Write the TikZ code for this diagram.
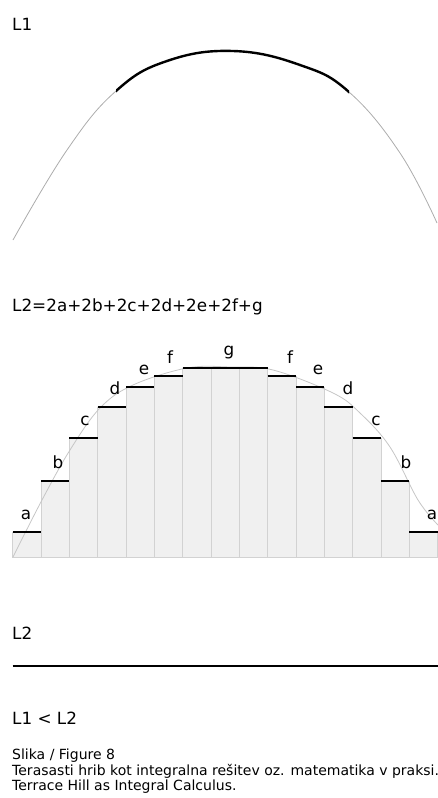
\documentclass[tikz,border=0pt]{standalone}
\usepackage{fontspec}
\setmainfont{DejaVu Sans}
\usetikzlibrary{positioning}

\begin{document}
\begin{tikzpicture}[
  x=1pt, y=-1pt,
  lbl/.style={font=\fontsize{16.8}{20}\selectfont, inner sep=0pt, anchor=base west},
  steplbl/.style={font=\fontsize{16.8}{20}\selectfont, inner sep=0pt, anchor=base},
  capline/.style={font=\fontsize{14}{16}\selectfont, inner sep=0pt, anchor=base west},
  hill/.style={gray!65, line width=0.8pt},
  ridge/.style={black, line width=2.4pt},
  column/.style={fill=gray!12, draw=gray!35, line width=0.6pt},
  tread/.style={black, line width=1.8pt}
]
\useasboundingbox (0,0) rectangle (438,798);

% L1: the hill
\node[lbl] (l1) at (12,30) {L1};
\draw[hill] plot[smooth, tension=0.7] coordinates {(13,240) (67,150) (116,91) (167,61) (233,51) (300,65) (349,92) (400,153) (437,223)};
\begin{scope}
  \clip (116,0) rectangle (349,200);
  \draw[ridge] plot[smooth, tension=0.7] coordinates {(13,240) (67,150) (116,91) (167,61) (233,51) (300,65) (349,92) (400,153) (437,223)};
\end{scope}

% L2: the terraces
\node[lbl] (sum) at (12,311) {L2=2a+2b+2c+2d+2e+2f+g};
\foreach \h [count=\i from 0] in {532,481,438,407,387,376,368,368,368,376,387,407,438,481,532} {
  \pgfmathsetmacro\xa{12.7+28.33*\i}
  \draw[column] (\xa,557) rectangle (\xa+28.33,\h);
}
\draw[hill, gray!45] plot[smooth, tension=0.6] coordinates {(13,557) (42,500) (70,450) (100,408) (133,385) (187,368) (230,367) (273,370) (333,393) (360,413) (390,447) (418,500) (438,525)};
\foreach \h [count=\i from 0] in {532,481,438,407,387,376,368,368,368,376,387,407,438,481,532} {
  \pgfmathsetmacro\xa{12.7+28.33*\i}
  \draw[tread] (\xa,\h) -- (\xa+28.33,\h);
}
\foreach \t/\x/\y [count=\k] in {a/26/532, b/58/481, c/85/438, d/115/407, e/144/387, f/170/376, g/229/368, f/290/376, e/318/387, d/348/407, c/376/438, b/406/481, a/432/532}
  \node[steplbl] (tag\k) at (\x,\y-13) {\t};

% L1 < L2
\node[lbl] (l2) at (12,639) {L2};
\coordinate (flatL) at (12.7,666);
\coordinate (flatR) at (438,666);
\draw[line width=1.6pt] (flatL) -- (flatR);
\node[lbl] (cmp) at (12,724) {L1 < L2};

% caption
\node[capline] (cap1) at (12,759) {Slika / Figure 8};
\node[capline] (cap2) at (12,775) {Terasasti hrib kot integralna rešitev oz. matematika v praksi.};
\node[capline] (cap3) at (12,790) {Terrace Hill as Integral Calculus.};
\end{tikzpicture}
\end{document}
